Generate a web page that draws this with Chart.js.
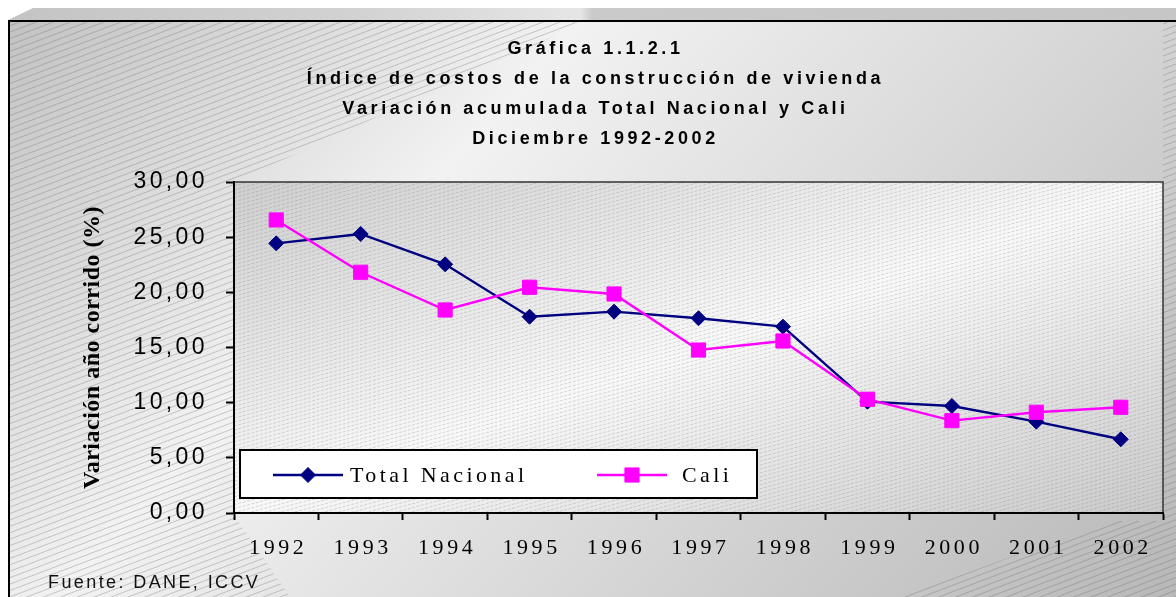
<!DOCTYPE html>
<html><head><meta charset="utf-8">
<script src="https://cdn.jsdelivr.net/npm/chart.js@4.4.1/dist/chart.umd.min.js"></script>
<style>html,body{margin:0;padding:0;background:#fff;overflow:hidden}#wrap{width:1176px;height:597px}</style>
</head><body><div id="wrap"><canvas id="c" width="1176" height="597"></canvas></div>
<script>
const years = ['1992','1993','1994','1995','1996','1997','1998','1999','2000','2001','2002'];
const totalNacional = [24.44, 25.29, 22.54, 17.79, 18.25, 17.65, 16.89, 10.09, 9.70, 8.28, 6.68];
const cali = [26.56, 21.82, 18.40, 20.46, 19.85, 14.77, 15.59, 10.31, 8.37, 9.13, 9.58];
const yTickValues = [0, 5, 10, 15, 20, 25, 30];
const titleLines = ['Gráfica 1.1.2.1', 'Índice de costos de la construcción de vivienda', 'Variación acumulada Total Nacional y Cali', 'Diciembre 1992-2002'];
const yAxisTitle = 'Variación año corrido (%)';
const sourceNote = 'Fuente: DANE, ICCV';

const W = 1176, H = 597;

function hatch(ctx, x0, y0, x1, y1, gap, slope, color, lw, dash) {
  ctx.save();
  ctx.strokeStyle = color; ctx.lineWidth = lw; ctx.setLineDash(dash || []);
  ctx.beginPath();
  const w = x1 - x0;
  const step = gap * Math.sqrt(1 + slope * slope);
  for (let c = y0; c <= y1 + slope * w + step; c += step) {
    ctx.moveTo(x0, c); ctx.lineTo(x1, c - slope * w);
  }
  ctx.stroke();
  ctx.restore();
}

function wrapSpacing(obj, method, sp, dx, dy) {
  const key = '__w_' + method;
  if (obj[key]) return;
  const orig = obj[method];
  obj[method] = function (...args) {
    const ctx = this.ctx;
    ctx.save();
    ctx.letterSpacing = sp;
    if (dx || dy) ctx.translate(dx || 0, dy || 0);
    const r = orig.apply(this, args);
    ctx.restore();
    return r;
  };
  obj[key] = true;
}

const decoPlugin = {
  id: 'deco',
  afterLayout(chart) {
    wrapSpacing(chart.titleBlock, 'draw', '3.6px', 14, 1);
    wrapSpacing(chart.scales.y, 'drawLabels', '3.4px');
    wrapSpacing(chart.scales.y, 'drawTitle', '0.5px');
    wrapSpacing(chart.scales.x, 'drawLabels', '3.6px', 2, 0);
  },
  beforeDraw(chart) {
    const ctx = chart.ctx, a = chart.chartArea;
    ctx.save();
    ctx.fillStyle = '#ffffff'; ctx.fillRect(0, 0, W, H);
    // top bevel
    let g = ctx.createLinearGradient(8, 0, W, 0);
    g.addColorStop(0, '#c4c4c4'); g.addColorStop(0.3, '#d2d2d2'); g.addColorStop(0.49, '#e6e6e6');
    g.addColorStop(0.5, '#cacaca'); g.addColorStop(1, '#c6c6c6');
    ctx.fillStyle = g;
    ctx.beginPath(); ctx.moveTo(8, 20); ctx.lineTo(33, 8); ctx.lineTo(W, 8); ctx.lineTo(W, 20); ctx.closePath(); ctx.fill();
    // main gradient
    g = ctx.createLinearGradient(0, 0, 940, 851);
    g.addColorStop(0, '#c0c0c0'); g.addColorStop(0.35, '#f2f2f2'); g.addColorStop(1, '#b8b8b8');
    ctx.fillStyle = g; ctx.fillRect(8, 20, W - 8, H - 20);
    // outer hatch
    ctx.save();
    ctx.beginPath();
    ctx.rect(8, 20, W - 8, H - 20);
    ctx.moveTo(590, 20); ctx.lineTo(a.right, 20); ctx.lineTo(a.right, a.bottom + 8);
    ctx.lineTo(1110, a.bottom + 8); ctx.lineTo(900, H); ctx.lineTo(290, H);
    ctx.lineTo(a.left, a.bottom + 2); ctx.lineTo(a.left, a.top); ctx.closePath();
    ctx.clip('evenodd');
    hatch(ctx, 8, 20, W, H, 6, 0.38, 'rgba(95,95,95,0.5)', 0.6);
    ctx.restore();
    // plot area
    const w = a.right - a.left, h = a.bottom - a.top;
    const cx = (a.left + a.right) / 2, cy = (a.top + a.bottom) / 2;
    const n = Math.sqrt(w * w + h * h), ux = h / n, uy = w / n, half = w * h / n;
    g = ctx.createLinearGradient(cx - ux * half, cy - uy * half, cx + ux * half, cy + uy * half);
    g.addColorStop(0, '#cecece'); g.addColorStop(0.5, '#f8f8f8'); g.addColorStop(1, '#cacaca');
    ctx.fillStyle = g; ctx.fillRect(a.left, a.top, w, h);
    ctx.save();
    ctx.beginPath(); ctx.rect(a.left, a.top, w, h); ctx.clip();
    hatch(ctx, a.left, a.top, a.right, a.bottom, 3.8, 0.27, 'rgba(100,100,100,0.4)', 0.6, [3, 1.5]);
    ctx.restore();
    ctx.strokeStyle = '#333'; ctx.lineWidth = 1.5;
    ctx.beginPath(); ctx.moveTo(a.left, a.top); ctx.lineTo(a.right, a.top); ctx.lineTo(a.right, a.bottom); ctx.stroke();
    // outer frame
    ctx.strokeStyle = '#000'; ctx.lineWidth = 2;
    ctx.beginPath(); ctx.moveTo(9, H); ctx.lineTo(9, 21); ctx.lineTo(W, 21); ctx.stroke();
    ctx.restore();
  },
  afterDraw(chart) {
    const ctx = chart.ctx, a = chart.chartArea;
    ctx.save();
    // legend box
    const bx = a.left + 6, by = a.bottom - 63, bw = 517, bh = 48;
    ctx.fillStyle = '#fff'; ctx.fillRect(bx, by, bw, bh);
    ctx.strokeStyle = '#000'; ctx.lineWidth = 2; ctx.strokeRect(bx, by, bw, bh);
    const ly = by + bh / 2 + 1;
    const items = [{ x: 273, tx: 350 }, { x: 597, tx: 682 }];
    chart.data.datasets.forEach((ds, i) => {
      const it = items[i];
      ctx.strokeStyle = ds.borderColor; ctx.lineWidth = ds.borderWidth;
      ctx.beginPath(); ctx.moveTo(it.x, ly); ctx.lineTo(it.x + 70, ly); ctx.stroke();
      ctx.fillStyle = ds.pointBackgroundColor; ctx.strokeStyle = ds.pointBorderColor; ctx.lineWidth = 1;
      Chart.helpers.drawPoint(ctx, { pointStyle: ds.pointStyle, radius: ds.pointRadius, borderWidth: 1, rotation: 0 }, it.x + 35, ly);
      ctx.letterSpacing = '3.4px';
      ctx.font = '22px "Liberation Serif", "Times New Roman", serif';
      ctx.fillStyle = '#000'; ctx.textBaseline = 'middle'; ctx.textAlign = 'left';
      ctx.fillText(ds.label, it.tx, ly + 1);
      ctx.letterSpacing = '0px';
    });
    // source note
    ctx.letterSpacing = '2.4px';
    ctx.font = '18px "Liberation Sans", Arial, sans-serif';
    ctx.fillStyle = '#111'; ctx.textBaseline = 'middle'; ctx.textAlign = 'left';
    ctx.fillText(sourceNote, 48, 583);
    ctx.restore();
  }
};

new Chart(document.getElementById('c'), {
  type: 'line',
  data: {
    labels: years,
    datasets: [
      { label: 'Total Nacional', data: totalNacional, order: 1, borderColor: '#000080', backgroundColor: '#000080',
        borderWidth: 2.4, pointStyle: 'rectRot', pointRadius: 7.5, pointBorderWidth: 1,
        pointBackgroundColor: '#000080', pointBorderColor: '#000080', tension: 0, fill: false },
      { label: 'Cali', data: cali, order: 0, borderColor: '#ff00ff', backgroundColor: '#ff00ff',
        borderWidth: 2.4, pointStyle: 'rect', pointRadius: 10, pointBorderWidth: 1,
        pointBackgroundColor: '#ff00ff', pointBorderColor: '#ff00ff', tension: 0, fill: false }
    ]
  },
  options: {
    responsive: false, animation: false, devicePixelRatio: 1,
    layout: { padding: { left: 0, right: 13, top: 0, bottom: 0 } },
    plugins: {
      legend: { display: false },
      tooltip: { enabled: false },
      title: { display: true, text: titleLines, color: '#000',
        font: { family: '"Liberation Sans", Arial, sans-serif', size: 18, weight: 'bold', lineHeight: '30px' },
        padding: { top: 33, bottom: 29 } }
    },
    scales: {
      x: {
        type: 'category', offset: true,
        grid: { drawOnChartArea: false, color: '#000', tickLength: 7, tickWidth: 2, offset: true },
        border: { color: '#000', width: 2 },
        ticks: { color: '#000', font: { family: '"Liberation Serif", "Times New Roman", serif', size: 22 }, padding: 15, autoSkip: false, maxRotation: 0 },
        afterFit: s => { s.height = 84; }
      },
      y: {
        min: 0, max: 30,
        afterBuildTicks: s => { s.ticks = yTickValues.map(v => ({ value: v })); },
        grid: { drawOnChartArea: false, color: '#000', tickLength: 8, tickWidth: 2 },
        border: { color: '#000', width: 2 },
        ticks: { color: '#000', font: { family: '"Liberation Sans", Arial, sans-serif', size: 23 }, padding: 18,
          callback: v => Number(v).toFixed(2).replace('.', ',') },
        title: { display: true, text: yAxisTitle, color: '#000',
          font: { family: '"Liberation Serif", "Times New Roman", serif', size: 24, weight: 'bold' },
          padding: { top: 78, bottom: 0 } },
        afterFit: s => { s.width = 234; }
      }
    }
  },
  plugins: [decoPlugin]
});
</script></body></html>
